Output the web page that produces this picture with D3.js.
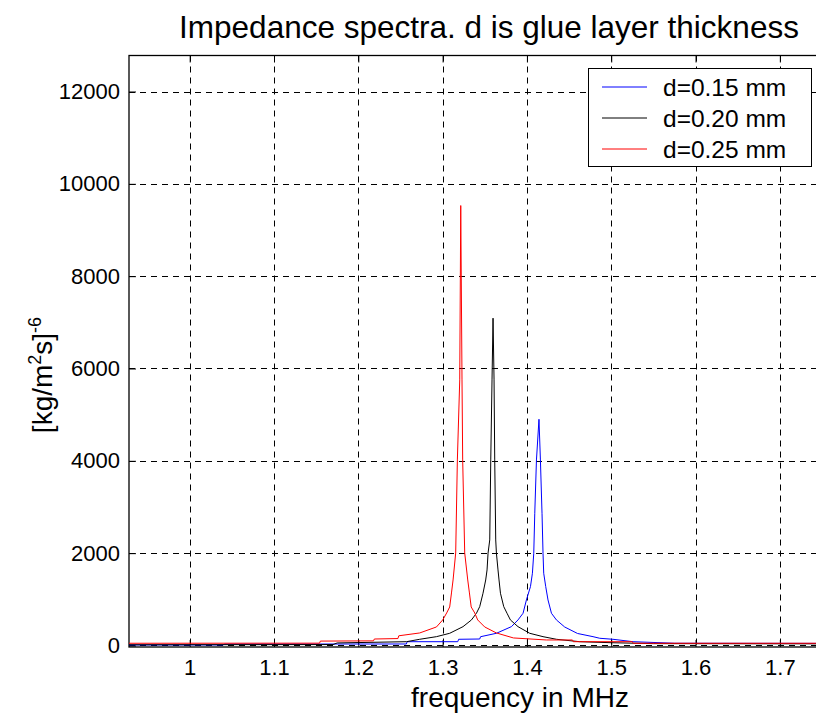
<!DOCTYPE html>
<html>
<head>
<meta charset="utf-8">
<script src="https://cdn.jsdelivr.net/npm/d3@7"></script>
<style>
  body { margin: 0; background: #fff; }
  svg text { font-family: "Liberation Sans", Arial, sans-serif; }
</style>
</head>
<body>
<svg id="chart"></svg>
<script>
let w = 816;
let h = 724;

// frequency (MHz), impedance value pairs
const blueData = [
  [0.928, 12], [1.040, 12], [1.041, 30], [1.257, 32], [1.258, 82], [1.318, 82],
  [1.319, 134], [1.344, 140], [1.345, 190], [1.3638, 264], [1.3816, 408],
  [1.3894, 553], [1.3954, 698], [1.3994, 986], [1.4042, 1275], [1.4065, 1565],
  [1.4081, 1998], [1.4093, 2864], [1.4113, 4019], [1.4143, 4900], [1.4160, 4019],
  [1.4179, 2864], [1.4191, 1998], [1.4199, 1565], [1.4223, 1275], [1.4250, 986],
  [1.4291, 698], [1.4350, 553], [1.4448, 400], [1.4600, 260], [1.4784, 191],
  [1.4864, 156], [1.5021, 134], [1.5259, 82], [1.5753, 48], [1.75, 45]
];
const blackData = [
  [0.928, 15], [1.170, 20], [1.175, 55], [1.2571, 82], [1.2728, 134], [1.2927, 191],
  [1.3084, 264], [1.3242, 408], [1.3342, 553], [1.3401, 698], [1.3440, 841],
  [1.3479, 1131], [1.3511, 1419], [1.3527, 1636], [1.3539, 2000], [1.3559, 2286],
  [1.3571, 4019], [1.3586, 5753], [1.3598, 7090], [1.3610, 5753], [1.3618, 4019],
  [1.3630, 2286], [1.3638, 2000], [1.3657, 1636], [1.3669, 1419], [1.3686, 1131],
  [1.3725, 841], [1.3764, 698], [1.3804, 553], [1.3894, 408], [1.4033, 264],
  [1.4191, 191], [1.4350, 134], [1.4626, 82], [1.500, 60], [1.550, 40], [1.75, 35]
];
const redData = [
  [0.928, 48], [1.154, 50], [1.155, 95], [1.218, 100], [1.219, 140], [1.247, 150],
  [1.248, 210], [1.2728, 271], [1.2927, 401], [1.3001, 553], [1.3048, 704],
  [1.3084, 834], [1.3105, 1138], [1.3124, 1419], [1.3155, 2004], [1.3175, 4019],
  [1.3203, 5753], [1.3215, 9530], [1.3230, 5753], [1.3238, 4019], [1.3262, 2004],
  [1.3298, 1419], [1.3318, 1138], [1.3339, 834], [1.3381, 704], [1.3416, 553],
  [1.3499, 401], [1.3638, 271], [1.3840, 163], [1.4230, 119], [1.454, 119],
  [1.455, 82], [1.525, 82], [1.526, 48], [1.75, 48]
];

const seriesNames = ['d=0.15 mm', 'd=0.20 mm', 'd=0.25 mm'];
const seriesColors = ['#0000ff', '#000000', '#ff0000'];
const xTicks = [1, 1.1, 1.2, 1.3, 1.4, 1.5, 1.6, 1.7];
const yTicks = [0, 2000, 4000, 6000, 8000, 10000, 12000];

const pLeft = 129, pRight = 822, pTop = 55.5, pBottom = 647;

const chart1 = d3.select('#chart')
    .attr('width', w)
    .attr('height', h);

const xScale = d3.scaleLinear().domain([0.928, 1.75]).range([pLeft, pRight]);
const yScale = d3.scaleLinear().domain([-33, 12780]).range([pBottom, pTop]);

// grid
const grid = chart1.append('g')
    .attr('stroke', '#000')
    .attr('stroke-width', 1)
    .attr('stroke-dasharray', '6,5');
grid.selectAll('.vg')
    .data(xTicks)
    .join('line')
    .attr('x1', d => Math.round(xScale(d)) + 0.5)
    .attr('x2', d => Math.round(xScale(d)) + 0.5)
    .attr('y1', pTop)
    .attr('y2', pBottom);
grid.selectAll('.hg')
    .data(yTicks)
    .join('line')
    .attr('x1', pLeft)
    .attr('x2', pRight)
    .attr('y1', d => Math.round(yScale(d)) + 0.5)
    .attr('y2', d => Math.round(yScale(d)) + 0.5);

// axes, ticks pointing inward
const xAxis = d3.axisBottom(xScale).tickValues(xTicks).tickFormat(d3.format('')).tickSize(-7).tickPadding(12);
const yAxis = d3.axisLeft(yScale).tickValues(yTicks).tickFormat(d3.format('d')).tickSize(-7).tickPadding(9);

const xAxisGroup = chart1.append('g')
    .attr('transform', `translate(0,${pBottom})`)
    .call(xAxis);
const yAxisGroup = chart1.append('g')
    .attr('transform', `translate(${pLeft},0)`)
    .call(yAxis);
chart1.append('g')
    .attr('transform', `translate(0,${pTop})`)
    .call(d3.axisTop(xScale).tickValues(xTicks).tickSize(-7).tickFormat(''));

[xAxisGroup, yAxisGroup].forEach(g => {
    g.selectAll('text').attr('font-size', 22).attr('fill', '#000')
        .style('font-family', '"Liberation Sans", Arial, sans-serif');
});
chart1.selectAll('.domain').remove();

chart1.append('rect')
    .attr('x', pLeft)
    .attr('y', pTop)
    .attr('width', pRight - pLeft)
    .attr('height', pBottom - pTop)
    .attr('fill', 'none')
    .attr('stroke', '#000')
    .attr('stroke-width', 1.3);

// spectra
const line = d3.line()
    .x(d => xScale(d[0]))
    .y(d => yScale(d[1]));

[blueData, blackData, redData].forEach((data, i) => {
    chart1.append('path')
        .datum(data)
        .attr('d', line)
        .attr('fill', 'none')
        .attr('stroke', seriesColors[i])
        .attr('stroke-width', 1);
});

// legend
let legend = chart1.append('g');
legend.append('rect')
    .attr('x', 588.5)
    .attr('y', 68.5)
    .attr('width', 223)
    .attr('height', 98)
    .attr('fill', '#fff')
    .attr('stroke', '#000')
    .attr('stroke-width', 1);

for (let i = 0; i < seriesNames.length; i++) {
    legend.append('line')
        .attr('x1', 602)
        .attr('x2', 647)
        .attr('y1', 87 + i * 31)
        .attr('y2', 87 + i * 31)
        .attr('stroke', seriesColors[i])
        .attr('stroke-width', 1);
    legend.append('text')
        .attr('x', 663)
        .attr('y', 87 + i * 31)
        .attr('dy', '0.35em')
        .attr('font-size', 24.5)
        .text(seriesNames[i]);
}

// titles
chart1.append('text')
    .attr('x', 489)
    .attr('y', 38)
    .attr('text-anchor', 'middle')
    .attr('font-size', 31.5)
    .text('Impedance spectra. d is glue layer thickness');

chart1.append('text')
    .attr('x', 520)
    .attr('y', 707)
    .attr('text-anchor', 'middle')
    .attr('font-size', 28)
    .text('frequency in MHz');

const yLabel = chart1.append('text')
    .attr('transform', 'translate(52,375) rotate(-90)')
    .attr('text-anchor', 'middle')
    .attr('font-size', 28);
yLabel.append('tspan').text('[kg/m');
yLabel.append('tspan').attr('font-size', 18).attr('dy', -11).text('2');
yLabel.append('tspan').attr('dy', 11).text('s]');
yLabel.append('tspan').attr('font-size', 18).attr('dy', -11).text('-6');
</script>
</body>
</html>
